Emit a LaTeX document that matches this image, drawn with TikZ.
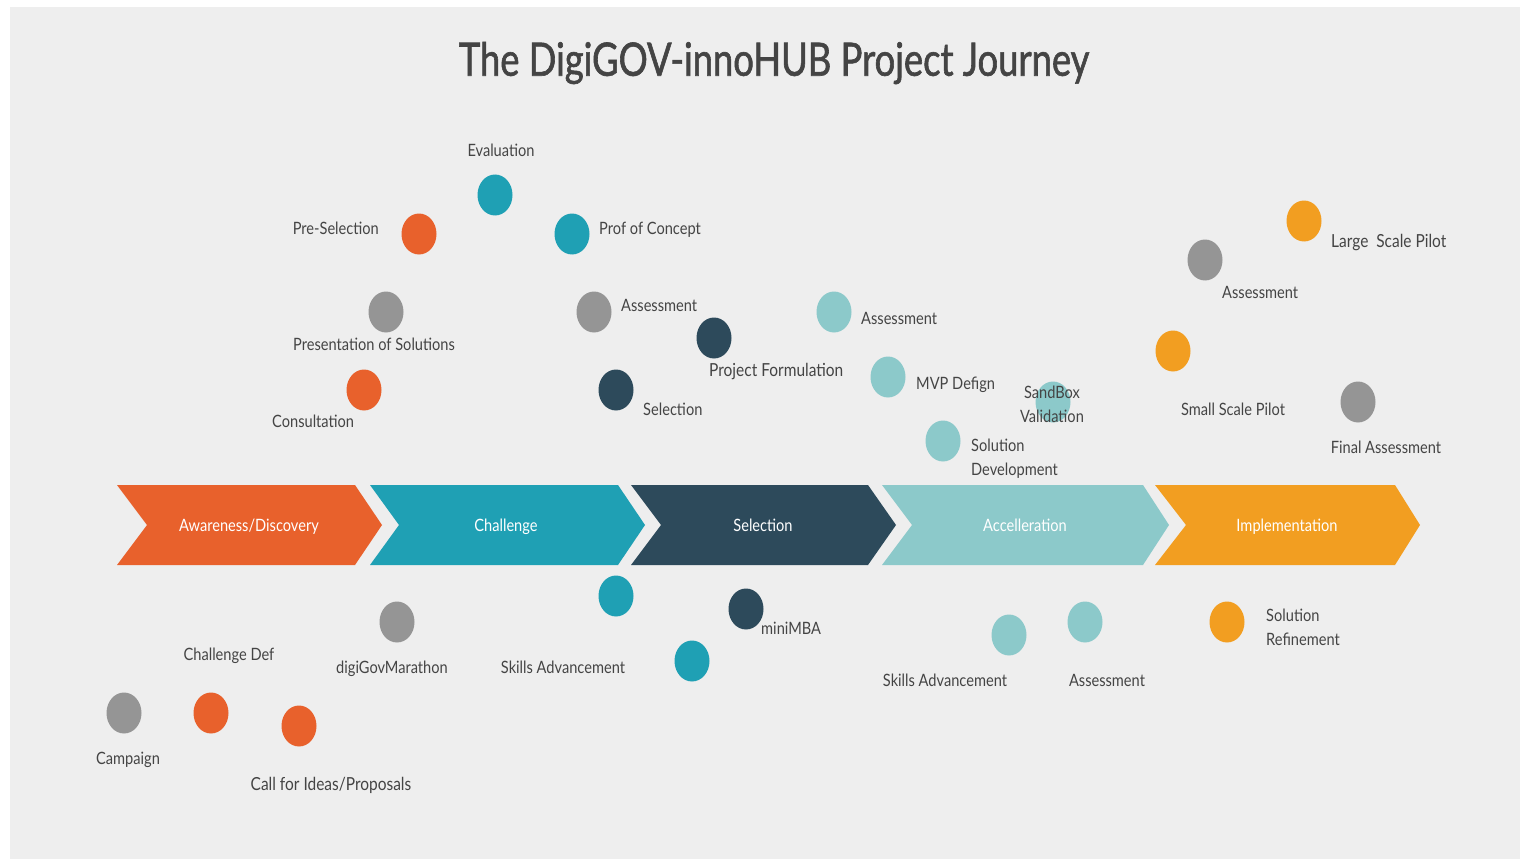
\documentclass[tikz,border=0pt]{standalone}
\usepackage{fontspec}
\setmainfont{Lato}[FakeStretch=0.86]
\newfontfamily\titlefont{Lato}[FakeStretch=0.79,FakeBold=1.3]
\usetikzlibrary{shapes.geometric}
\definecolor{bg}{HTML}{EEEEEE}
\definecolor{cOr}{HTML}{E8612C}
\definecolor{cTe}{HTML}{1FA0B4}
\definecolor{cDk}{HTML}{2D4A5B}
\definecolor{cLt}{HTML}{8CC9CA}
\definecolor{cAm}{HTML}{F29E21}
\definecolor{cGy}{HTML}{959595}
\definecolor{txt}{HTML}{444444}
\begin{document}
\begin{tikzpicture}[x=1pt,y=-1pt,
  dot/.style={ellipse,minimum width=35pt,minimum height=41pt,inner sep=0pt,fill=#1},
  lbltwo/.style={text=txt,font=\fontsize{17}{24}\selectfont,inner sep=0pt},
  lbl/.style={lbltwo,text height=16pt,text depth=3.5pt},
  lblbig/.style={lbl,font=\fontsize{18}{24}\selectfont},
  chevlbl/.style={text=white,font=\fontsize{17}{20}\selectfont,inner sep=0pt,text height=16pt,text depth=3.5pt},
  ttl/.style={text=txt,font=\titlefont\fontsize{46}{50}\selectfont,inner sep=0pt}]
\useasboundingbox (0,0) rectangle (1522,861);
\fill[white] (0,0) rectangle (1522,861);
\fill[bg] (10,7) rectangle (1520,859);

\node[ttl] (title) at (774,63) {The DigiGOV-innoHUB Project Journey};

% chevrons
\fill[cOr] (117,485) -- (355,485) -- (382,525) -- (355,565) -- (117,565) -- (147,525) -- cycle;
\fill[cTe] (370,485) -- (618,485) -- (645,525) -- (618,565) -- (370,565) -- (399,525) -- cycle;
\fill[cDk] (631,485) -- (868,485) -- (896,525) -- (868,565) -- (631,565) -- (661,525) -- cycle;
\fill[cLt] (882,485) -- (1143,485) -- (1169,525) -- (1143,565) -- (882,565) -- (912,525) -- cycle;
\fill[cAm] (1155,485) -- (1395,485) -- (1420,525) -- (1395,565) -- (1155,565) -- (1186,525) -- cycle;
\node[chevlbl] (c1) at (249,525) {Awareness/Discovery};
\node[chevlbl] (c2) at (506,525) {Challenge};
\node[chevlbl] (c3) at (763,525) {Selection};
\node[chevlbl] (c4) at (1025,525) {Accelleration};
\node[chevlbl] (c5) at (1287,525) {Implementation};

% top dots
\node[dot=cTe] (d1) at (495,195) {};
\node[lbl] (l1) at (501,150) {Evaluation};
\node[dot=cOr] (d2) at (419,234) {};
\node[lbl,anchor=east] (l2) at (379,228) {Pre-Selection};
\node[dot=cTe] (d3) at (572,234) {};
\node[lbl,anchor=west] (l3) at (599,228) {Prof of Concept};
\node[dot=cGy] (d4) at (386,312) {};
\node[lbl,anchor=west] (l4) at (293,344) {Presentation of Solutions};
\node[dot=cOr] (d5) at (364,390) {};
\node[lbl,anchor=west] (l5) at (272,421) {Consultation};
\node[dot=cGy] (d6) at (594,312) {};
\node[lbl,anchor=west] (l6) at (621,305) {Assessment};
\node[dot=cDk] (d7) at (714,338) {};
\node[lblbig,anchor=west] (l7) at (709,370) {Project Formulation};
\node[dot=cDk] (d8) at (616,390) {};
\node[lbl,anchor=west] (l8) at (643,409) {Selection};
\node[dot=cLt] (d9) at (834,312) {};
\node[lbl,anchor=west] (l9) at (861,318) {Assessment};
\node[dot=cLt] (d10) at (888,377) {};
\node[lbl,anchor=west] (l10) at (916,383) {MVP Defign};
\node[dot=cLt] (d11) at (943,441) {};
\node[lbltwo,anchor=west,align=left] (l11) at (971,459) {Solution\\Development};
\node[dot=cLt] (d12) at (1053,402) {};
\node[lbltwo,align=center] (l12) at (1052,404) {SandBox\\Validation};
\node[dot=cGy] (d13) at (1205,260) {};
\node[lbl,anchor=west] (l13) at (1222,292) {Assessment};
\node[dot=cAm] (d14) at (1304,221) {};
\node[lblbig,anchor=west] (l14) at (1331,241) {Large~ Scale Pilot};
\node[dot=cAm] (d15) at (1173,351) {};
\node[lbl] (l15) at (1233,409) {Small Scale Pilot};
\node[dot=cGy] (d16) at (1358,402) {};
\node[lbl] (l16) at (1386,447) {Final Assessment};

% bottom dots
\node[dot=cTe] (d17) at (616,596) {};
\node[dot=cTe] (d18) at (692,661) {};
\node[lbl] (l17) at (563,667) {Skills Advancement};
\node[dot=cDk] (d19) at (746,609) {};
\node[lbl,anchor=west] (l19) at (761,628) {miniMBA};
\node[dot=cGy] (d20) at (397,622) {};
\node[lbl] (l20) at (392,667) {digiGovMarathon};
\node[lbl] (l21) at (229,654) {Challenge Def};
\node[dot=cGy] (d22) at (124,713) {};
\node[lbl] (l22) at (128,758) {Campaign};
\node[dot=cOr] (d23) at (211,713) {};
\node[dot=cOr] (d24) at (299,726) {};
\node[lblbig] (l24) at (331,784) {Call for Ideas/Proposals};
\node[dot=cLt] (d25) at (1009,635) {};
\node[lbl] (l25) at (945,680) {Skills Advancement};
\node[dot=cLt] (d26) at (1085,622) {};
\node[lbl] (l26) at (1107,680) {Assessment};
\node[dot=cAm] (d27) at (1227,622) {};
\node[lbltwo,anchor=west,align=left] (l27) at (1266,627) {Solution\\Refinement};
\end{tikzpicture}
\end{document}
